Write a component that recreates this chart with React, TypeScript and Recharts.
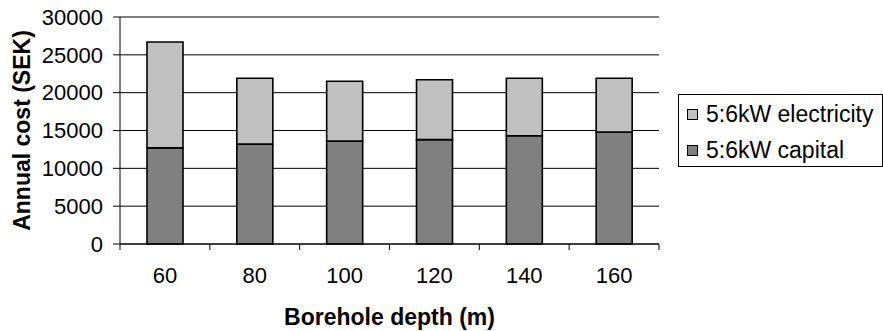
import { Bar, BarChart, CartesianGrid, Label, Legend, ReferenceLine, XAxis, YAxis } from 'recharts'

const depths = ['60', '80', '100', '120', '140', '160']
const capital = [12700, 13200, 13600, 13800, 14300, 14800]
const electricity = [14000, 8700, 7900, 7900, 7600, 7100]
const yTicks = [0, 5000, 10000, 15000, 20000, 25000, 30000]

const data = depths.map((depth, i) => ({
  depth,
  capital: capital[i],
  electricity: electricity[i],
}))

const FONT = "'Liberation Sans', Arial, Helvetica, sans-serif"
const W = 883
const H = 331
const MARGIN = { top: 17, right: 224, bottom: 0, left: 0 }
const Y_AXIS_W = 120
const X_AXIS_H = 87
const AXIS_Y = H - MARGIN.bottom - X_AXIS_H
const HALF_BAND = (W - MARGIN.left - MARGIN.right - Y_AXIS_W) / depths.length / 2

// Excel style: tick marks sit between categories, labels in the middle
function DepthTick(props: any) {
  const { x, y, payload } = props
  const half = payload?.offset || HALF_BAND
  const last = payload?.index === depths.length - 1
  return (
    <g>
      <line x1={x - half} x2={x - half} y1={AXIS_Y} y2={AXIS_Y + 6} stroke="#000" />
      {last && <line x1={x + half} x2={x + half} y1={AXIS_Y} y2={AXIS_Y + 6} stroke="#000" />}
      <text x={x} y={y} dy="0.71em" textAnchor="middle" fill="#000" fontSize={22} fontFamily={FONT}>
        {payload.value}
      </text>
    </g>
  )
}

function YTitle(props: any) {
  const vb = props.viewBox || { x: 0, y: MARGIN.top, height: AXIS_Y - MARGIN.top }
  const cx = vb.x + 30
  const cy = vb.y + vb.height / 2
  return (
    <text
      x={cx}
      y={cy}
      transform={`rotate(-90, ${cx}, ${cy})`}
      textAnchor="middle"
      fill="#000"
      fontSize={23}
      fontWeight="bold"
      fontFamily={FONT}
    >
      Annual cost (SEK)
    </text>
  )
}

function LegendBox({ payload }: any) {
  const items = [...(payload || [])].reverse()
  return (
    <div
      style={{
        boxSizing: 'border-box',
        width: 205,
        height: 73,
        border: '1px solid #000',
        background: '#fff',
        paddingTop: 1,
        fontFamily: FONT,
        fontSize: 23,
        color: '#000',
      }}
    >
      {items.map((entry: any) => (
        <div key={entry.value} style={{ height: 36, display: 'flex', alignItems: 'center' }}>
          <span
            style={{
              display: 'inline-block',
              boxSizing: 'border-box',
              width: 11,
              height: 11,
              marginLeft: 8,
              marginRight: 8,
              background: entry.color,
              border: '1px solid #000',
            }}
          />
          <span style={{ whiteSpace: 'nowrap' }}>{entry.value}</span>
        </div>
      ))}
    </div>
  )
}

export default function App() {
  return (
    <div style={{ position: 'absolute', left: 0, top: 0, width: W, height: H, background: '#fff' }}>
      <BarChart width={W} height={H} data={data} margin={MARGIN}>
        <CartesianGrid horizontal vertical={false} stroke="#000" />
        <XAxis
          dataKey="depth"
          height={X_AXIS_H}
          axisLine={{ stroke: '#000' }}
          tickLine={false}
          tickSize={6}
          tickMargin={17}
          tick={<DepthTick />}
          interval={0}
        >
          <Label
            value="Borehole depth (m)"
            position="insideBottom"
            offset={6}
            fill="#000"
            fontSize={23}
            fontWeight="bold"
            fontFamily={FONT}
          />
        </XAxis>
        <YAxis
          width={Y_AXIS_W}
          domain={[0, 30000]}
          ticks={yTicks}
          interval={0}
          axisLine={{ stroke: '#000' }}
          tickLine={{ stroke: '#000' }}
          tickSize={7}
          tickMargin={10}
          tick={{ fill: '#000', fontSize: 22, fontFamily: FONT }}
          label={<Label content={<YTitle />} />}
        />
        <YAxis
          yAxisId="frame"
          orientation="right"
          width={0}
          domain={[0, 30000]}
          tick={false}
          tickLine={false}
          axisLine={{ stroke: '#808080' }}
        />
        <ReferenceLine y={30000} stroke="#808080" />
        <Legend
          layout="vertical"
          align="center"
          verticalAlign="middle"
          wrapperStyle={{ left: 678, top: 94, width: 205, height: 73 }}
          content={<LegendBox />}
        />
        <Bar
          dataKey="capital"
          name="5:6kW capital"
          stackId="cost"
          fill="#808080"
          stroke="#000"
          strokeWidth={1.6}
          barSize={36}
          isAnimationActive={false}
        />
        <Bar
          dataKey="electricity"
          name="5:6kW electricity"
          stackId="cost"
          fill="#C0C0C0"
          stroke="#000"
          strokeWidth={1.6}
          barSize={36}
          isAnimationActive={false}
        />
      </BarChart>
    </div>
  )
}
